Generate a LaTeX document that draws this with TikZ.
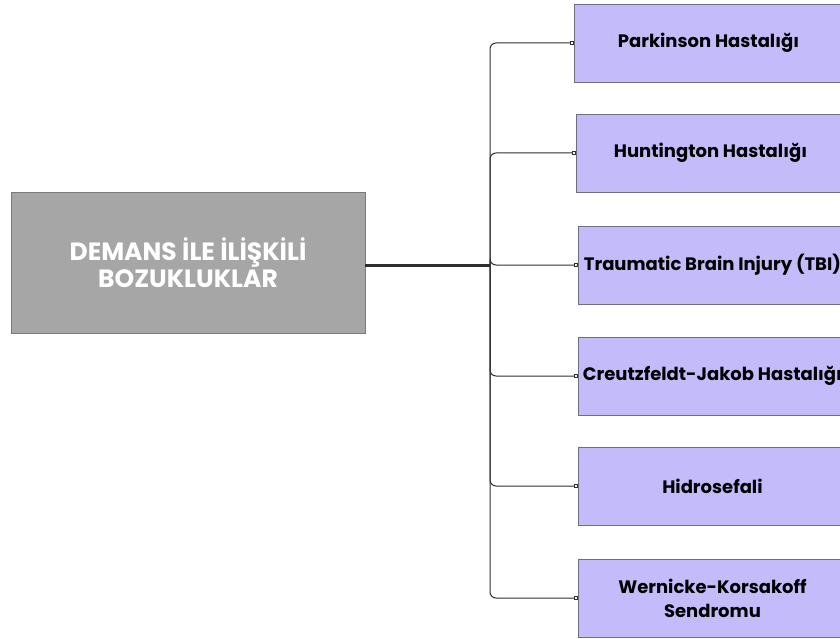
\documentclass[tikz,border=0pt]{standalone}
\usepackage{fontspec}
\setmainfont{Poppins}
\newfontfamily\titlefont{Poppins}
\usetikzlibrary{arrows.meta}
\definecolor{rootfill}{HTML}{A6A6A6}
\definecolor{rootedge}{HTML}{7A7A7A}
\definecolor{leaffill}{HTML}{C4BBFB}
\definecolor{leafedge}{HTML}{6E6E80}
\definecolor{wire}{HTML}{2E2E2E}
\tikzset{
  rootbox/.style={draw=rootedge, line width=0.9pt, fill=rootfill, minimum width=354pt,
    minimum height=141pt, inner sep=0pt, text=white, align=center,
    font=\titlefont\bfseries\fontsize{25}{27}\selectfont},
  leafbox/.style={draw=leafedge, line width=0.9pt, fill=leaffill, minimum width=268pt,
    minimum height=78pt, inner sep=0pt, anchor=west, align=center,
    font=\bfseries\fontsize{18}{24}\selectfont},
  stem/.style={wire, line width=3pt},
  branch/.style={wire, line width=1pt, rounded corners=6pt,
    -{Square[open, length=3.6pt, width=3.6pt, line width=0.8pt]}},
}
\begin{document}
\begin{tikzpicture}[x=1pt, y=-1pt]
  \useasboundingbox (0,0) rectangle (840,639);
  \node[rootbox] (root) at (188,262.5) {DEMANS İLE İLİŞKİLİ\\BOZUKLUKLAR};
  \coordinate (hub) at (490,265);

  \node[leafbox] (l1) at (574,43)  {Parkinson Hastalığı};
  \node[leafbox] (l2) at (576,153) {Huntington Hastalığı};
  \node[leafbox] (l3) at (578,265) {Traumatic Brain Injury (TBI)};
  \node[leafbox] (l4) at (578,376) {Creutzfeldt-Jakob Hastalığı};
  \node[leafbox] (l5) at (578,486) {Hidrosefali};
  \node[leafbox] (l6) at (578,598) {Wernicke-Korsakoff\\Sendromu};

  \draw[stem] (root.east |- hub) -- (hub);
  \foreach \n in {l1,l2,l3,l4,l5,l6}
    \draw[branch] (hub) |- (\n.west);
\end{tikzpicture}
\end{document}
